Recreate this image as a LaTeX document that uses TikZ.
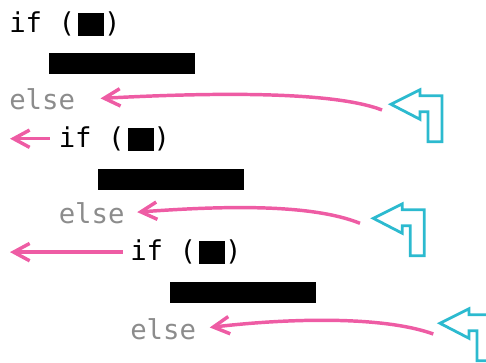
\documentclass[tikz,border=0pt]{standalone}
\usepackage{fontspec}
\setmonofont{DejaVu Sans Mono}
\usetikzlibrary{arrows.meta}
\definecolor{jumppink}{HTML}{EE5CA4}
\definecolor{turncyan}{HTML}{2CBACF}
\definecolor{elsegray}{HTML}{8C8C8C}
\newcommand{\blackcond}{\hspace{2.5pt}\rule[-2.5pt]{19.3pt}{17.2pt}}
\tikzset{%
  code/.style = {anchor=base west, inner sep=0pt,
                 font=\ttfamily\fontsize{20.5}{24}\selectfont},
  muted/.style = {code, text=elsegray},
  bar/.style = {fill=black, inner sep=0pt,
                minimum width=109.5pt, minimum height=15.4pt},
  jump/.style = {draw=jumppink, line width=2.6pt,
                 -{Straight Barb[length=12pt,width=13pt]}},
  turnup/.pic = {\draw[turncyan, line width=2.1pt, line join=miter]
      (0,0) -- (29,-14.5) -- (29,-8.5) -- (51,-8.5) -- (51,37.5)
      -- (37,37.5) -- (37,7.5) -- (29,7.5) -- (29,15) -- cycle;}
  }

\begin{document}
\begin{tikzpicture}[x=0.75pt, y=-0.75pt]
    \useasboundingbox (0,0) rectangle (486,363);
    \clip (0,0) rectangle (486,363);

    \node (if1)   [code]  at (9,32.3)      {if (\blackcond)};
    \node (bar1)  [bar]   at (122,63.7)    {};
    \node (else1) [muted] at (9,110)       {else};
    \node (if2)   [code]  at (58.5,147.3)  {if (\blackcond)};
    \node (bar2)  [bar]   at (171.3,179.7) {};
    \node (else2) [muted] at (58.5,223.3)  {else};
    \node (if3)   [code]  at (130,260.7)   {if (\blackcond)};
    \node (bar3)  [bar]   at (243.3,292.5) {};
    \node (else3) [muted] at (130,339.3)   {else};

    % cyan turn marks
    \pic (turn1) at (391,104.3) {turnup};
    \pic (turn2) at (373.3,218.3) {turnup};
    \pic (turn3) at (440,323.3) {turnup};

    \coordinate (from1) at (382,110);
    \coordinate (from2) at (360,223.3);
    \coordinate (from3) at (433.3,334);
    \coordinate (out2)  at (10,139);
    \coordinate (out3)  at (10,251.7);

    \draw[jump, shorten >=18.9pt] (from1) .. controls +(-52,-20) and +(125,-6.6) .. (else1.east);
    \draw[jump, shorten >=9.3pt]  (from2) .. controls +(-50,-20) and +(96,-7) .. (else2.east);
    \draw[jump, shorten >=10.1pt] (from3) .. controls +(-50,-18) and +(94,-11) .. (else3.east);
    \draw[jump, shorten <=6.4pt]  (if2.west) -- (if2.west -| out2);
    \draw[jump, shorten <=5.5pt]  (if3.west) -- (if3.west -| out3);
\end{tikzpicture}
\end{document}
